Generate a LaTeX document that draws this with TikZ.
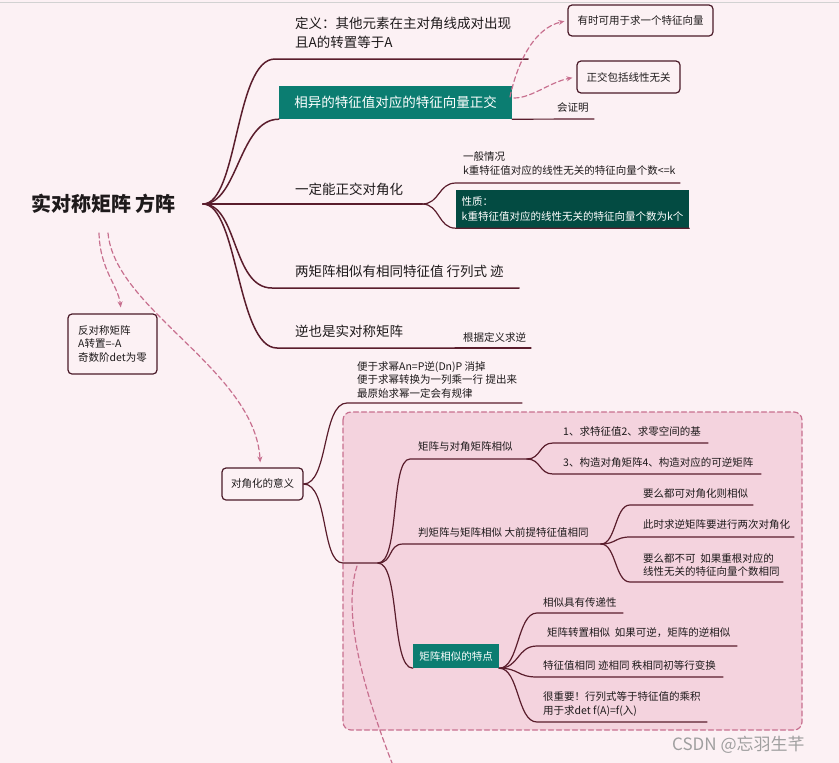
\documentclass[tikz,border=0pt]{standalone}
\usepackage{fontspec}
\setmainfont{Noto Sans CJK SC}
\usetikzlibrary{arrows.meta}
\definecolor{bgc}{HTML}{FCF1F4}
\definecolor{linec}{HTML}{5A1D2C}
\definecolor{textc}{HTML}{1E1A1B}
\definecolor{tealc}{HTML}{0B7D71}
\definecolor{darktealc}{HTML}{034B42}
\definecolor{pinkc}{HTML}{C8708F}
\definecolor{regionc}{HTML}{F4D3DE}
\definecolor{boxc}{HTML}{4A1A28}

\begin{document}
\begin{tikzpicture}[x=1pt,y=-1pt,line cap=round,
  branch/.style={linec,line width=1.5pt},
  twig/.style={linec,line width=1.2pt},
  main/.style={inner sep=0pt,anchor=west,align=left,text=textc,font=\fontsize{13.5}{19}\selectfont},
  sub/.style={inner sep=0pt,anchor=west,align=left,text=textc,font=\fontsize{10.5}{13.5}\selectfont},
  note/.style={draw=boxc,line width=1.2pt,rounded corners=4pt,fill=bgc,inner sep=0pt,align=left,text=textc,font=\fontsize{10.5}{13.5}\selectfont},
  tealbox/.style={fill=tealc,text=white,inner sep=0pt},
  rel/.style={pinkc,line width=1.2pt,dash pattern=on 5pt off 3pt},
  relarrow/.style={rel,-{Stealth[length=6pt,width=5pt]}}]

  \fill[bgc] (0,0) rectangle (839,763);
  \useasboundingbox (0,0) rectangle (839,763);
  \draw[gray!35,line width=1pt] (0,2.5) -- (839,2.5);

  % boundary round the similarity part
  \draw[rel,fill=regionc,rounded corners=8pt] (343,412) rectangle (802,730);

  % root and its topics
  \node[inner sep=0pt,anchor=west,text=textc,font=\bfseries\fontsize{20}{24}\selectfont] (root) at (31,204) {实对称矩阵 方阵};
  \node[main] (def) at (295,32.5) {定义：其他元素在主对角线成对出现\\且A的转置等于A};
  \node[tealbox,minimum width=233pt,minimum height=33pt,font=\fontsize{13.5}{16}\selectfont] (uniq) at (395.5,102.5) {相异的特征值对应的特征向量正交};
  \node[sub] (proof) at (557,108) {会证明};
  \node[main] (diag) at (295,189) {一定能正交对角化};
  \node[sub] (gen) at (463,163.5) {一般情况\\k重特征值对应的线性无关的特征向量个数<=k};
  \node[tealbox,fill=darktealc,minimum width=233pt,minimum height=38pt,align=left,font=\fontsize{10.5}{15}\selectfont] (prop) at (572.5,209) {性质：\\k重特征值对应的线性无关的特征向量个数为k个};
  \node[main] (sim) at (295,271) {两矩阵相似有相同特征值 行列式 迹};
  \node[main] (inv) at (295,331) {逆也是实对称矩阵};
  \node[sub] (byd) at (463,337) {根据定义求逆};

  % floating notes
  \node[note,minimum width=145pt,minimum height=31pt] (hint) at (640.5,20.5) {有时可用于求一个特征向量};
  \node[note,minimum width=103pt,minimum height=32pt] (orth) at (628.5,77) {正交包括线性无关};
  \node[note,minimum width=89pt,minimum height=60pt] (anti) at (112.5,344) {反对称矩阵\\A转置=-A\\奇数阶det为零};
  \node[note,minimum width=81pt,minimum height=32pt] (mean) at (262.5,484) {对角化的意义};

  % meaning of diagonalisation
  \node[sub] (pow) at (357,379.5) {便于求幂An=P逆(Dn)P 消掉\\便于求幂转换为一列乘一行 提出来\\最原始求幂一定会有规律};
  \node[sub] (simd) at (418,447) {矩阵与对角矩阵相似};
  \node[sub] (s1) at (563,432) {1、求特征值2、求零空间的基};
  \node[sub] (s2) at (563,463) {3、构造对角矩阵4、构造对应的可逆矩阵};
  \node[sub] (judge) at (418,533) {判矩阵与矩阵相似 大前提特征值相同};
  \node[sub] (j1) at (643,494) {要么都可对角化则相似};
  \node[sub] (j2) at (643,525) {此时求逆矩阵要进行两次对角化};
  \node[sub] (j3) at (643,565) {要么都不可\ \ 如果重根对应的\\线性无关的特征向量个数相同};
  \node[tealbox,minimum width=86pt,minimum height=24pt,font=\fontsize{10.5}{13}\selectfont] (feat) at (456,656) {矩阵相似的特点};
  \node[sub] (f1) at (543,602) {相似具有传递性};
  \node[sub] (f2) at (547,633) {矩阵转置相似\ \ 如果可逆，矩阵的逆相似};
  \node[sub] (f3) at (543,665) {特征值相同 迹相同 秩相同初等行变换};
  \node[sub] (f4) at (543,704) {很重要！行列式等于特征值的乘积\\用于求det f(A)=f(入)};

  \node[inner sep=0pt,anchor=west,text=gray!75,font=\fontsize{17}{20}\selectfont] (mark) at (672,745) {CSDN @忘羽生芊};

  % branch ends
  \coordinate (root-e) at (203,204);
  \coordinate (def-s) at (275,59);   \coordinate (def-e) at (528,59);
  \coordinate (proof-e) at (594,119);
  \coordinate (diag-e) at (422,204);
  \coordinate (gen-s) at (456,183);  \coordinate (gen-e) at (680,183);
  \coordinate (sim-s) at (272,288);  \coordinate (sim-e) at (519,288);
  \coordinate (inv-s) at (277,348);  \coordinate (inv-e) at (455,348);
  \coordinate (byd-e) at (531,348);
  \coordinate (pow-s) at (347,403);  \coordinate (pow-e) at (522,403);
  \coordinate (junc-a) at (343,563); \coordinate (junc) at (378,563);
  \coordinate (simd-s) at (410,459); \coordinate (simd-e) at (527,459);
  \coordinate (s1-s) at (553,443);   \coordinate (s1-e) at (708,443);
  \coordinate (s2-s) at (553,474);   \coordinate (s2-e) at (761,474);
  \coordinate (judge-s) at (403,544); \coordinate (judge-e) at (601,544);
  \coordinate (j1-s) at (630,505);   \coordinate (j1-e) at (753,505);
  \coordinate (j2-s) at (630,537);   \coordinate (j2-e) at (794,537);
  \coordinate (j3-s) at (630,582);   \coordinate (j3-e) at (783,582);
  \coordinate (f1-s) at (537,613);   \coordinate (f1-e) at (623,613);
  \coordinate (f2-s) at (537,646);   \coordinate (f2-e) at (737,646);
  \coordinate (f3-s) at (537,677);   \coordinate (f3-e) at (723,677);
  \coordinate (f4-s) at (537,722);   \coordinate (f4-e) at (707,722);

  \draw[branch] (root-e) .. controls +(35,0) and +(-40,0) .. (def-s) -- (def-e);
  \draw[branch] (root-e) .. controls +(35,0) and +(-40,0) .. (uniq.south west);
  \draw[twig] (uniq.south east) -- (proof-e);
  \draw[branch] (root-e) -- (diag-e);
  \draw[twig] (diag-e) .. controls +(18,0) and +(-18,0) .. (gen-s) -- (gen-e);
  \draw[twig] (diag-e) .. controls +(18,0) and +(-18,0) .. (prop.south west) -- (prop.south east);
  \draw[branch] (root-e) .. controls +(35,0) and +(-40,0) .. (sim-s) -- (sim-e);
  \draw[branch] (root-e) .. controls +(35,0) and +(-40,0) .. (inv-s) -- (inv-e);
  \draw[twig] (inv-e) -- (byd-e);

  \draw[twig] (mean.east) .. controls +(25,0) and +(-25,0) .. (pow-s) -- (pow-e);
  \draw[twig] (mean.east) .. controls +(25,0) and +(-22,0) .. (junc-a) -- (junc);
  \draw[twig] (junc) .. controls +(22,0) and +(-20,0) .. (simd-s) -- (simd-e);
  \draw[twig] (simd-e) .. controls +(14,0) and +(-14,0) .. (s1-s) -- (s1-e);
  \draw[twig] (simd-e) .. controls +(14,0) and +(-14,0) .. (s2-s) -- (s2-e);
  \draw[twig] (junc) .. controls +(15,0) and +(-15,0) .. (judge-s) -- (judge-e);
  \draw[twig] (judge-e) .. controls +(15,0) and +(-15,0) .. (j1-s) -- (j1-e);
  \draw[twig] (judge-e) .. controls +(15,0) and +(-15,0) .. (j2-s) -- (j2-e);
  \draw[twig] (judge-e) .. controls +(15,0) and +(-15,0) .. (j3-s) -- (j3-e);
  \draw[twig] (junc) .. controls +(22,0) and +(-22,0) .. (feat.south west);
  \draw[twig] (feat.south east) .. controls +(20,0) and +(-20,0) .. (f1-s) -- (f1-e);
  \draw[twig] (feat.south east) .. controls +(20,0) and +(-20,0) .. (f2-s) -- (f2-e);
  \draw[twig] (feat.south east) .. controls +(20,0) and +(-20,0) .. (f3-s) -- (f3-e);
  \draw[twig] (feat.south east) .. controls +(20,0) and +(-20,0) .. (f4-s) -- (f4-e);

  % relationships
  \coordinate (rel-a) at (510,97);   \coordinate (rel-b) at (514,98);
  \coordinate (root-d1) at (99,233); \coordinate (root-d2) at (108,233);
  \coordinate (junc-rel) at (357,566); \coordinate (rel-out) at (392,763);
  \draw[relarrow,shorten >=3pt] (rel-a) .. controls (518,60) and (535,28) .. (hint.west);
  \draw[relarrow,shorten >=4pt] (rel-b) .. controls (532,98) and (550,82) .. (orth.west);
  \draw[relarrow,shorten >=6pt] (root-d1) .. controls (100,270) and (118,285) .. ([xshift=9pt]anti.north);
  \draw[relarrow,shorten >=5pt] (root-d2) .. controls (115,310) and (255,370) .. ([xshift=-2pt]mean.north);
  \draw[rel] (junc-rel) .. controls (343,610) and (360,680) .. (rel-out);
\end{tikzpicture}
\end{document}
